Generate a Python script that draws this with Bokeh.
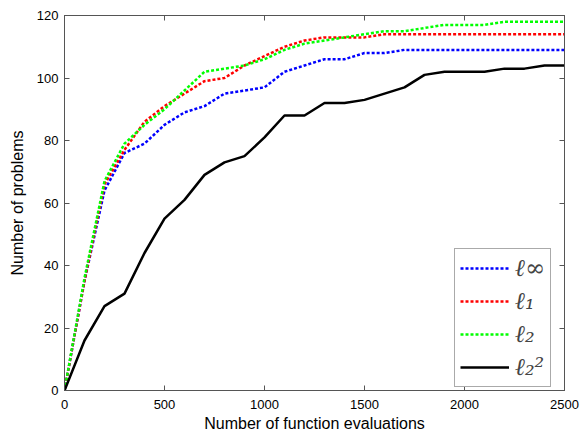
from bokeh.plotting import figure
from bokeh.models import Legend, LegendItem, LinearAxis, FixedTicker, Range1d
from bokeh.embed import file_html
from bokeh.resources import INLINE

# Data
evals = list(range(0, 2600, 100))
l_inf = [0, 35, 64, 76, 79, 85, 89, 91, 95, 96, 97, 102, 104, 106, 106, 108, 108, 109,
         109, 109, 109, 109, 109, 109, 109, 109]
l_1 = [0, 35, 66, 77, 86, 91, 95, 99, 100, 104, 107, 110, 112, 113, 113, 113, 114, 114,
       114, 114, 114, 114, 114, 114, 114, 114]
l_2 = [0, 36, 67, 79, 85, 90, 96, 102, 103, 104, 106, 109, 111, 112, 113, 114, 115, 115,
       116, 117, 117, 117, 118, 118, 118, 118]
l_2sq = [0, 16, 27, 31, 44, 55, 61, 69, 73, 75, 81, 88, 88, 92, 92, 93, 95, 97,
         101, 102, 102, 102, 103, 103, 104, 104]

labels = ["ℓ∞", "ℓ₁", "ℓ₂", "ℓ₂²"]
x_ticks = [0, 500, 1000, 1500, 2000, 2500]
y_ticks = [0, 20, 40, 60, 80, 100, 120]

AX = "#555555"
FONT = "Liberation Sans"

p = figure(width=581, height=435, x_range=Range1d(0, 2500), y_range=Range1d(0, 120),
           output_backend="svg", toolbar_location=None,
           min_border_left=64, min_border_right=17, min_border_top=15, min_border_bottom=45)
p.xgrid.visible = False
p.ygrid.visible = False
p.outline_line_color = AX
p.background_fill_color = "white"
p.border_fill_color = "white"

def style_axis(ax, ticks, show_labels=True):
    ax.ticker = FixedTicker(ticks=ticks)
    ax.axis_line_color = AX
    ax.major_tick_line_color = AX
    ax.major_tick_in = 5
    ax.major_tick_out = 0
    ax.minor_tick_line_color = None
    ax.major_label_text_font = FONT
    ax.major_label_text_font_size = "13px"
    ax.major_label_text_color = "black"
    ax.axis_label_text_font = FONT
    ax.axis_label_text_font_size = "16px"
    ax.axis_label_text_font_style = "normal"
    ax.axis_label_text_color = "black"
    if not show_labels:
        ax.major_label_text_font_size = "0px"
        ax.major_label_standoff = 0
        ax.major_label_text_color = None

style_axis(p.xaxis[0], x_ticks)
style_axis(p.yaxis[0], y_ticks)
p.xaxis[0].axis_label = "Number of function evaluations"
p.yaxis[0].axis_label = "Number of problems"
p.xaxis[0].major_label_standoff = 9
p.xaxis[0].axis_label_standoff = 3
p.yaxis[0].major_label_standoff = 6
p.yaxis[0].axis_label_standoff = 8

top = LinearAxis()
right = LinearAxis()
style_axis(top, x_ticks, False)
style_axis(right, y_ticks, False)
p.add_layout(top, "above")
p.add_layout(right, "right")

r_inf = p.line(evals, l_inf, line_color="#0000ff", line_width=2.5, line_dash="3 2")
r_1 = p.line(evals, l_1, line_color="#ff0000", line_width=2.5, line_dash="3 2")
r_2 = p.line(evals, l_2, line_color="#00ff00", line_width=2.5, line_dash="3 2")
r_2sq = p.line(evals, l_2sq, line_color="black", line_width=2.5)

legend = Legend(items=[LegendItem(label=labels[0], renderers=[r_inf]),
                       LegendItem(label=labels[1], renderers=[r_1]),
                       LegendItem(label=labels[2], renderers=[r_2]),
                       LegendItem(label=labels[3], renderers=[r_2sq])],
                location=(390, 3))
legend.label_text_font = "DejaVu Serif"
legend.label_text_font_style = "italic"
legend.label_text_font_size = "24px"
legend.glyph_width = 49
legend.glyph_height = 20
legend.label_height = 20
legend.label_standoff = 6
legend.spacing = 5
legend.padding = 5
legend.margin = 0
legend.border_line_color = AX
legend.border_line_width = 1
legend.background_fill_color = "white"
legend.background_fill_alpha = 1
p.add_layout(legend)

open("out.html", "w").write(file_html(p, INLINE))
